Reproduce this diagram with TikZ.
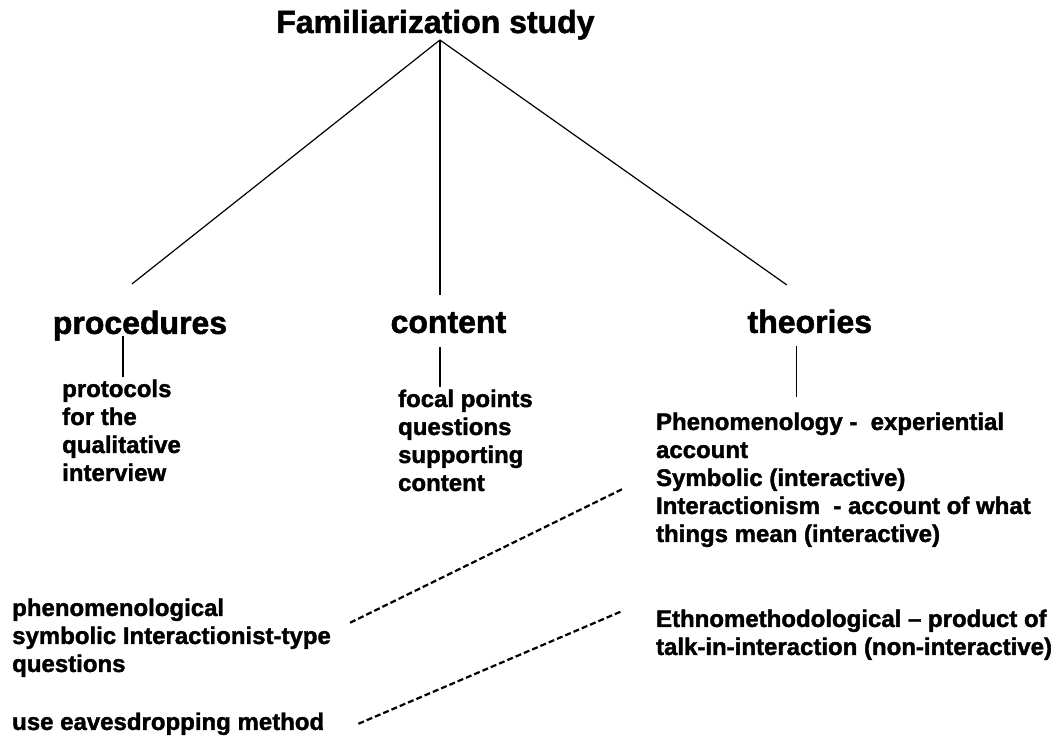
\documentclass[tikz,border=0pt]{standalone}
\usepackage{fontspec}
\setmainfont{Liberation Sans}[BoldFeatures={FakeBold=1.6}]
\usepackage{tikz}
\usetikzlibrary{calc}

\begin{document}
\begin{tikzpicture}[
      x=1pt,y=-1pt,
      ttl/.style={font=\fontsize{32}{36}\selectfont\bfseries,inner sep=0pt,anchor=base},
      hd/.style={font=\fontsize{32}{36}\selectfont\bfseries,inner sep=0pt,anchor=base},
      tx/.style={font=\fontsize{24}{28}\selectfont\bfseries,inner sep=0pt,anchor=north west,align=left},
      ln/.style={line width=1.2pt},
      dl/.style={line width=2.2pt,dash pattern=on 6pt off 3pt}
    ]
    \fill[white] (0,0) rectangle (1052,738);

    \node[ttl] (title) at (435.5,33) {Familiarization study};
    \node[hd] (proc) at (140,334) {procedures};
    \node[hd] (cont) at (448.5,333) {content};
    \node[hd] (theor) at (810,333) {theories};

    \node[tx] (proto) at (62,379.5) {protocols\\ for the\\ qualitative\\ interview};
    \node[tx] (focal) at (398,389.5) {focal points\\ questions\\ supporting\\ content};
    \node[tx] (theo) at (656,412.5) {Phenomenology -\ \ experiential\\ account\\ Symbolic (interactive)\\ Interactionism\ \ - account of what\\ things mean (interactive)};
    \node[tx] (ethno) at (656,609.5) {Ethnomethodological – product of\\ talk-in-interaction (non-interactive)};
    \node[tx] (qtype) at (12,598.5) {phenomenological\\ symbolic Interactionist-type\\ questions};
    \node[tx] (eaves) at (12,712.5) {use eavesdropping method};

    \draw[ln] ($(title.base)+(4.5,7)$) -- ($(proc.base)+(-8,-50)$);
    \draw[ln] ($(title.base)+(4.5,7)$) -- ($(cont.base)+(-8.5,-38)$);
    \draw[ln] ($(title.base)+(4.5,7)$) -- ($(theor.base)+(-23,-48)$);

    \draw[ln] ($(proc.base)+(-17,2)$) -- ($(proc.base |- proto.north)+(-17,-2.5)$);
    \draw[ln] ($(cont.base)+(-8.5,14)$) -- ($(cont.base |- focal.north)+(-8.5,-2.5)$);
    \draw[ln] ($(theor.base)+(-13,13)$) -- ($(theor.base |- theo.north)+(-13,-15.5)$);

    \draw[dl] ($(qtype.east)+(19,-15)$) -- ($(theo.west)+(-33,9)$);
    \draw[dl] ($(eaves.east)+(34,0)$) -- ($(ethno.west)+(-33,-24)$);
  \end{tikzpicture}
\end{document}
